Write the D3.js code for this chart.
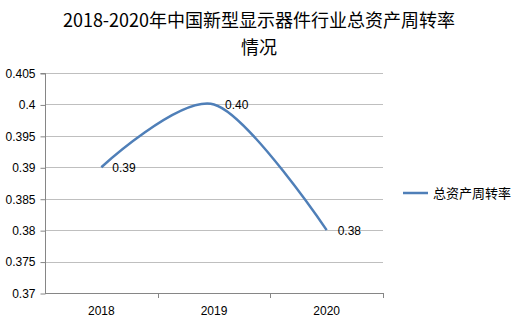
<!DOCTYPE html>
<html><head><meta charset="utf-8">
<script src="https://cdn.jsdelivr.net/npm/d3@7"></script>
<style>body{margin:0;background:#fff}svg{display:block}</style>
</head><body>
<svg id="c" width="522" height="324"></svg>
<script>
const categories = ["2018", "2019", "2020"];
const values = [0.39, 0.40, 0.38];
const valueLabels = ["0.39", "0.40", "0.38"];
const yTicks = [0.37, 0.375, 0.38, 0.385, 0.39, 0.395, 0.4, 0.405];
const seriesName = "总资产周转率";
const titleLines = ["2018-2020年中国新型显示器件行业总资产周转率", "情况"];

const svg = d3.select("#c");
const font = "'Liberation Sans', 'Noto Sans CJK SC', sans-serif";
const cjk = "'Noto Sans CJK SC', 'Liberation Sans', sans-serif";
const L = 45, R = 383, T = 73, B = 293;

const x = d3.scaleBand().domain(categories).range([L, R]);
const y = d3.scaleLinear().domain([0.37, 0.405]).range([B, T]);

// title
svg.append("g").selectAll("text").data(titleLines).join("text")
  .attr("x", 259).attr("y", (d, i) => 27 + i * 26.5)
  .attr("text-anchor", "middle").attr("font-family", cjk)
  .attr("font-size", 18).attr("fill", "#000").text(d => d);

// gridlines
svg.append("g").selectAll("line").data(yTicks).join("line")
  .attr("x1", L).attr("x2", R)
  .attr("y1", d => Math.round(y(d)) + 0.5).attr("y2", d => Math.round(y(d)) + 0.5)
  .attr("stroke", "#bfbfbf").attr("stroke-width", 1);

// y axis
const yAxis = d3.axisLeft(y).tickValues(yTicks).tickSize(5).tickFormat(d => String(+d.toFixed(3)));
const gy = svg.append("g").attr("transform", `translate(${L + 0.5},0.5)`).call(yAxis);
gy.select(".domain").attr("stroke", "#868686").attr("d", `M-5,${Math.round(T)}H0V${Math.round(B)}`);
gy.selectAll(".tick line").attr("stroke", "#868686");
gy.selectAll(".tick text").attr("font-family", font).attr("font-size", 12).attr("fill", "#000").attr("x", -10);

// x axis
const xAxis = d3.axisBottom(x).tickSize(0);
const gx = svg.append("g").attr("transform", `translate(0,${Math.round(B) + 0.5})`).call(xAxis);
gx.select(".domain").attr("stroke", "#868686").attr("d", `M${L},0H${R}`);
gx.selectAll(".tick text").attr("font-family", font).attr("font-size", 12).attr("fill", "#000").attr("dy", "1.55em");
// category boundary ticks
svg.append("g").selectAll("line").data(categories).join("line")
  .attr("x1", d => Math.round(x(d) + x.bandwidth()) + 0.5)
  .attr("x2", d => Math.round(x(d) + x.bandwidth()) + 0.5)
  .attr("y1", Math.round(B)).attr("y2", Math.round(B) + 5)
  .attr("stroke", "#868686");

// line
const pts = categories.map((c, i) => [x(c) + x.bandwidth() / 2, y(values[i])]);
svg.append("path").datum(pts)
  .attr("d", d3.line().curve(d3.curveCardinal.tension(0.1)))
  .attr("fill", "none").attr("stroke", "#4f7fb8").attr("stroke-width", 2.5);

// data labels
svg.append("g").selectAll("text").data(pts).join("text")
  .attr("x", d => d[0] + 11).attr("y", d => d[1] + 5)
  .attr("font-family", font).attr("font-size", 12).attr("fill", "#000")
  .text((d, i) => valueLabels[i]);

// legend
svg.append("line").attr("x1", 403).attr("x2", 428).attr("y1", 193).attr("y2", 193)
  .attr("stroke", "#4f7fb8").attr("stroke-width", 2.5);
svg.append("text").attr("x", 433).attr("y", 197.5)
  .attr("font-family", cjk).attr("font-size", 13).attr("fill", "#000").text(seriesName);
</script>
</body></html>
